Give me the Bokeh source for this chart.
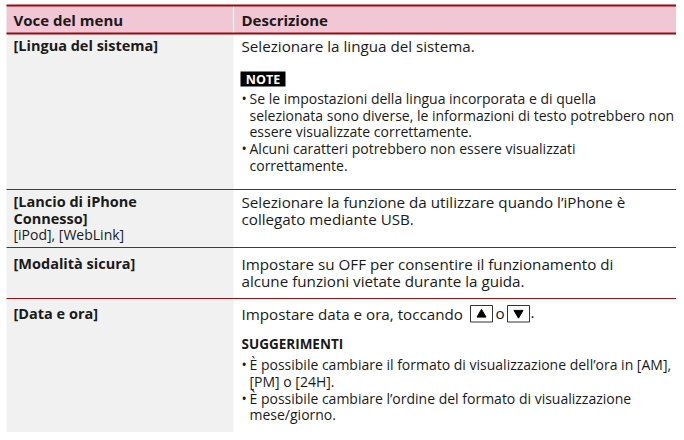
from bokeh.plotting import figure
from bokeh.models import Range1d, ColumnDataSource
from bokeh.core.properties import value
from bokeh.embed import file_html
from bokeh.resources import INLINE

# ---- data (table content) ----
header_labels = ["Voce del menu", "Descrizione"]
row_titles = [
    ["[Lingua del sistema]"],
    ["[Lancio di iPhone", "Connesso]"],
    ["[Modalità sicura]"],
    ["[Data e ora]"],
]
row_subtitles = [[], ["[iPod], [WebLink]"], [], []]
row_desc = [
    ["Selezionare la lingua del sistema."],
    ["Selezionare la funzione da utilizzare quando l\u2019iPhone è",
     "collegato mediante USB."],
    ["Impostare su OFF per consentire il funzionamento di",
     "alcune funzioni vietate durante la guida."],
    ["Impostare data e ora, toccando"],
]
note_label = "NOTE"
note_bullets = [
    ["Se le impostazioni della lingua incorporata e di quella",
     "selezionata sono diverse, le informazioni di testo potrebbero non",
     "essere visualizzate correttamente."],
    ["Alcuni caratteri potrebbero non essere visualizzati",
     "correttamente."],
]
tips_label = "SUGGERIMENTI"
tips_bullets = [
    ["È possibile cambiare il formato di visualizzazione dell\u2019ora in [AM],",
     "[PM] o [24H]."],
    ["È possibile cambiare l\u2019ordine del formato di visualizzazione",
     "mese/giorno."],
]
button_symbols = ["triangle", "inverted_triangle"]
button_joiner = "o"

# ---- layout (figure pixel coords, y downwards) ----
W, H = 676, 432
X0, XC, X1 = 6, 233, W
Y_TOP, Y_HEAD = 5, 33
row_lines = [189, 247, 298]
Y_BOT = H
LX, RX, BX = 13, 241, 249
LINE = 16.6
FONT = value("Open Sans")
FS_MAIN = "15.2px"
FS_SMALL = "14px"
INK = "#1a1a1a"
RED = "#a0121a"

p = figure(width=W, height=H, output_backend="svg", toolbar_location=None,
           x_range=Range1d(0, W), y_range=Range1d(H, 0),
           min_border=0, outline_line_color=None, background_fill_color="white",
           border_fill_color="white")
p.axis.visible = False
p.grid.visible = False

# backgrounds
p.quad(left=[X0], right=[X1], top=[Y_TOP], bottom=[Y_HEAD], fill_color="#f2c7d5", line_color=None)
p.quad(left=[X0], right=[XC], top=[Y_HEAD], bottom=[Y_BOT], fill_color="#f1f1f1", line_color=None)
p.segment(x0=[XC], y0=[Y_TOP], x1=[XC], y1=[Y_HEAD], line_color="white", line_width=1.2)

# rules
p.segment(x0=[X0, X0], y0=[Y_TOP, Y_HEAD], x1=[X1, X1], y1=[Y_TOP, Y_HEAD], line_color="#960a10", line_width=1.8)
p.segment(x0=[X0] * 3, y0=row_lines, x1=[X1] * 3, y1=row_lines, line_color=RED, line_width=1.1)

def txt(xs, ys, texts, bold=False, size=FS_SMALL, color=INK, align="left"):
    src = ColumnDataSource(dict(x=xs, y=ys, t=texts))
    p.text(x="x", y="y", text="t", source=src, text_font=FONT, text_font_size=size,
           text_font_style="bold" if bold else "normal", text_color=color,
           text_baseline="middle", text_align=align)

# header
txt([LX, RX], [19.5, 19.5], header_labels, bold=True, size="15px")

# row text starts
row_y0 = [45, 201, 263, 313]
for i in range(4):
    y = row_y0[i]
    ys = [y + k * LINE for k in range(len(row_titles[i]))]
    txt([LX] * len(ys), ys, row_titles[i], bold=True, size="14.5px")
    if row_subtitles[i]:
        ys2 = [ys[-1] + LINE * (k + 1) for k in range(len(row_subtitles[i]))]
        txt([LX] * len(ys2), ys2, row_subtitles[i])
    yd = [y + k * (LINE + 0.8) for k in range(len(row_desc[i]))]
    txt([RX] * len(yd), yd, row_desc[i], size=FS_MAIN)

# NOTE box
p.quad(left=[240], right=[285], top=[71], bottom=[86], fill_color="black", line_color=None)
txt([262.5], [78.8], [note_label], bold=True, size="12.5px", color="white", align="center")

def bullets(groups, y_start):
    y = y_start
    for g in groups:
        txt([RX], [y], ["\u2022"])
        ys = [y + k * LINE for k in range(len(g))]
        txt([BX] * len(g), ys, g)
        y = ys[-1] + LINE + 0.6
    return y

bullets(note_bullets, 98)

# buttons in row 4
bx = [481, 518]
p.quad(left=[b - 11 for b in bx], right=[b + 11 for b in bx], top=[305] * 2, bottom=[321.5] * 2,
       fill_color="white", line_color="#333333", line_width=1)
p.scatter(x=bx, y=[314, 312.5], marker=button_symbols, size=9, fill_color="black", line_color="black")
txt([499.5], [312.5], [button_joiner], size=FS_MAIN, align="center")
txt([530], [312.5], ["."], size=FS_MAIN)

txt([RX], [343], [tips_label], bold=True, size="13.5px")
bullets(tips_bullets, 364)

open("out.html", "w").write(file_html(p, INLINE))
